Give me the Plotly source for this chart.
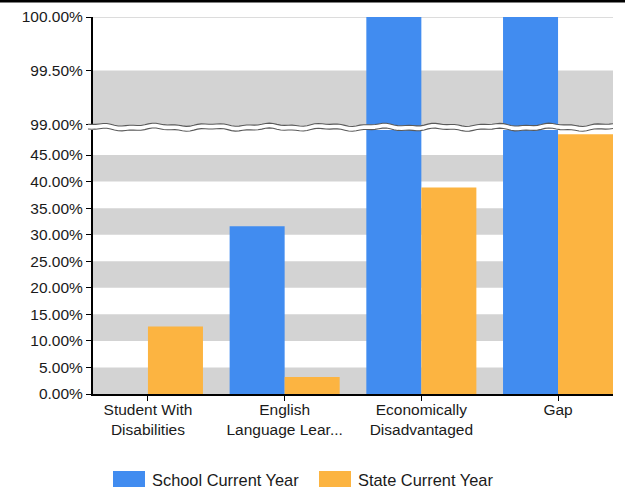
import numpy as np
import plotly.graph_objects as go

categories = ["Student With<br>Disabilities", "English<br>Language Lear...",
              "Economically<br>Disadvantaged", "Gap"]
school_current_year = [0.0, 31.6, 100.0, 100.0]
state_current_year = [12.7, 3.2, 38.9, 48.9]
series_names = ["School Current Year", "State Current Year"]
lower_ticks = [0, 5, 10, 15, 20, 25, 30, 35, 40, 45]
upper_ticks = [99.0, 99.5, 100.0]

BLUE = "#418CF0"
ORANGE = "#FCB441"
BAND = "#D3D3D3"
FONT = "Liberation Sans, Arial, sans-serif"

W, H = 625, 490
ML, MR, MT, MB = 93, 12, 17, 96
PW, PH = W - ML - MR, H - MT - MB

def px(x):
    return (x - ML) / PW

def py(y):
    return (H - MB - y) / PH

x_idx = list(range(len(categories)))

fig = go.Figure()
for name, vals, col in [(series_names[0], school_current_year, BLUE),
                        (series_names[1], state_current_year, ORANGE)]:
    fig.add_trace(go.Bar(x=x_idx, y=vals, name=name, marker_color=col,
                         marker_line_width=0, xaxis="x", yaxis="y", showlegend=False))
    fig.add_trace(go.Bar(x=x_idx, y=vals, name=name, marker_color=col,
                         marker_line_width=0, xaxis="x2", yaxis="y2", showlegend=False))

shapes = []
# background bands
for t in lower_ticks[::2]:
    shapes.append(dict(type="rect", xref="paper", yref="y", x0=0, x1=1, y0=t, y1=t + 5,
                       fillcolor=BAND, line_width=0, layer="below"))
shapes.append(dict(type="rect", xref="paper", yref="y2", x0=0, x1=1, y0=98.972, y1=99.5,
                   fillcolor=BAND, line_width=0, layer="below"))
shapes.append(dict(type="line", xref="paper", yref="y2", x0=0, x1=1, y0=100, y1=100,
                   line=dict(color="#DCDCDC", width=2), layer="below"))

# axis break wave
xs = np.linspace(88, 613, 140)
wob = 1.1 * np.sin(xs / 9.0) + 0.6 * np.sin(xs / 3.7 + 1.0)
top = 124.8 + wob
bot = 129.6 + wob
def pstr(xa, ya):
    return " L ".join(f"{px(a):.5f},{py(b):.5f}" for a, b in zip(xa, ya))
fill_path = "M " + pstr(xs, top) + " L " + pstr(xs[::-1], bot[::-1]) + " Z"
shapes.append(dict(type="path", xref="paper", yref="paper", path=fill_path,
                   fillcolor="white", line_width=0, layer="above"))
for arr in (top, bot):
    shapes.append(dict(type="path", xref="paper", yref="paper", path="M " + pstr(xs, arr),
                       line=dict(color="#5a5a5a", width=1.1), layer="above"))

# top black border
shapes.append(dict(type="rect", xref="paper", yref="paper", x0=px(0), x1=px(W),
                   y0=py(2.5), y1=py(-1), fillcolor="black", line_width=0))

# legend (manual)
annotations = []
for (x0, x1, tx), name, col in [((113, 145, 150), series_names[0], BLUE),
                                ((319, 351, 356), series_names[1], ORANGE)]:
    shapes.append(dict(type="rect", xref="paper", yref="paper", x0=px(x0), x1=px(x1),
                       y0=py(487), y1=py(471), fillcolor=col, line_width=0))
    annotations.append(dict(xref="paper", yref="paper", x=px(tx), y=py(479.5), text=name,
                            showarrow=False, xanchor="left", yanchor="middle",
                            font=dict(family=FONT, size=16.4, color="#1a1a1a")))

axis_common = dict(showline=True, linecolor="black", linewidth=2, ticks="outside",
                   ticklen=5, tickwidth=1, tickcolor="black", showgrid=False,
                   zeroline=False, automargin=False,
                   tickfont=dict(family=FONT, size=15.5, color="#1a1a1a"))

fig.update_layout(
    template="none",
    width=W, height=H,
    margin=dict(l=ML, r=MR, t=MT, b=MB, autoexpand=False),
    paper_bgcolor="white", plot_bgcolor="rgba(0,0,0,0)",
    barmode="group", bargap=0.195, bargroupgap=0,
    showlegend=False,
    xaxis=dict(domain=[0, 1], anchor="y", range=[-0.402, 3.402], tickvals=x_idx,
               ticktext=categories, ticklabelstandoff=-5, **axis_common),
    xaxis2=dict(domain=[0, 1], anchor="y2", range=[-0.402, 3.402], matches="x", visible=False),
    yaxis=dict(domain=[0, 0.700], anchor="x", range=[0, 49.7], tickvals=lower_ticks,
               ticktext=[f"{v:.2f}%" for v in lower_ticks], **axis_common),
    yaxis2=dict(domain=[0.708, 1], anchor="x2", range=[98.972, 100], tickvals=upper_ticks,
                ticktext=[f"{v:.2f}%" for v in upper_ticks], **axis_common),
    shapes=shapes, annotations=annotations,
    font=dict(family=FONT, size=15.5, color="#1a1a1a"),
)
fig.update_xaxes(tickfont=dict(size=15.5))

fig.write_html("out.html", config={"displayModeBar": False},
               post_script="document.body.style.margin='0';document.body.style.padding='0';"
                           "document.body.style.overflow='hidden';")
